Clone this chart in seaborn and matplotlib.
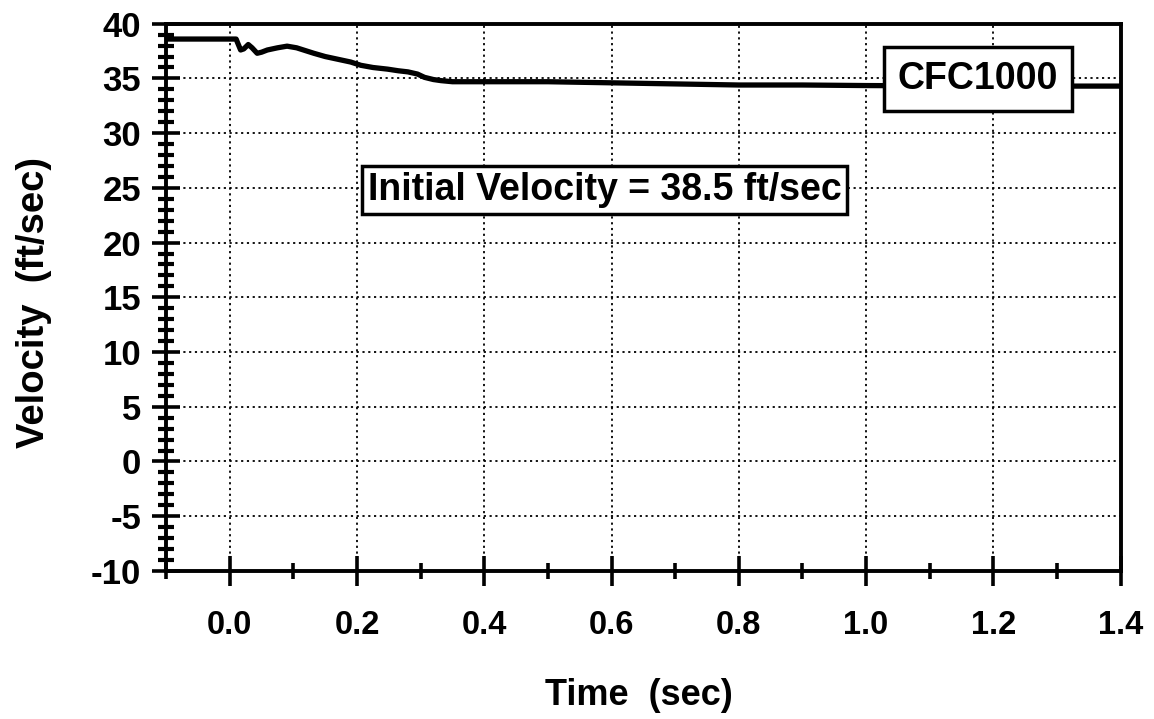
import numpy as np
import pandas as pd
import seaborn as sns
import matplotlib.pyplot as plt
from matplotlib.ticker import MultipleLocator

# Dane
time_s = [-0.1, 0.0, 0.010, 0.012, 0.017, 0.022, 0.029, 0.035, 0.043, 0.050,
          0.059, 0.075, 0.090, 0.105, 0.132, 0.150, 0.174, 0.190, 0.206, 0.225,
          0.248, 0.265, 0.280, 0.295, 0.306, 0.320, 0.332, 0.350, 0.400, 0.500,
          0.600, 0.700, 0.800, 0.900, 1.000, 1.200, 1.400]
velocity = [38.6, 38.6, 38.6, 38.3, 37.6, 37.7, 38.1, 37.8, 37.3, 37.4,
            37.6, 37.8, 37.95, 37.8, 37.3, 37.0, 36.7, 36.5, 36.2, 36.0,
            35.85, 35.7, 35.6, 35.4, 35.1, 34.9, 34.8, 34.7, 34.7, 34.7,
            34.6, 34.5, 34.4, 34.4, 34.35, 34.3, 34.3]
x_ticks = [0.0, 0.2, 0.4, 0.6, 0.8, 1.0, 1.2, 1.4]
y_ticks = [-10, -5, 0, 5, 10, 15, 20, 25, 30, 35, 40]
note_text = "Initial Velocity = 38.5 ft/sec"
filter_text = "CFC1000"

df = pd.DataFrame({"Time": time_s, "Velocity": velocity})

sns.set_style("ticks")
plt.rcParams['font.family'] = ['Liberation Sans', 'DejaVu Sans']
plt.rcParams['font.weight'] = 'bold'
# wszystko czarne, jak w oryginale
plt.rcParams['text.color'] = 'black'
plt.rcParams['axes.labelcolor'] = 'black'
plt.rcParams['xtick.color'] = 'black'
plt.rcParams['ytick.color'] = 'black'

fig = plt.figure(figsize=(11.54, 7.19), dpi=100)
ax = fig.add_axes([0.144, 0.206, 0.827, 0.761])

sns.lineplot(data=df, x="Time", y="Velocity", ax=ax, color="black", linewidth=3.8)

ax.set_xlim(-0.1, 1.4)
ax.set_ylim(-10, 40)
ax.set_xticks(x_ticks)
ax.set_xticklabels([f"{v:.1f}" for v in x_ticks])
ax.set_yticks(y_ticks)
ax.set_yticklabels([str(v) for v in y_ticks])
ax.xaxis.set_minor_locator(MultipleLocator(0.1))
ax.yaxis.set_minor_locator(MultipleLocator(1))

# siatka kropkowana tylko na głównych podziałkach
ax.grid(True, which='major', color='black', linestyle=(0, (1.2, 2.0)), linewidth=1.3)
ax.set_axisbelow(True)

for s in ax.spines.values():
    s.set_linewidth(2.8)
    s.set_color('black')

ax.tick_params(axis='x', which='major', direction='inout', length=21, width=2.6,
               labelsize=23.5, pad=18, colors='black')
ax.tick_params(axis='x', which='minor', direction='inout', length=12, width=2.6)
ax.tick_params(axis='y', which='major', direction='inout', length=20, width=2.6,
               labelsize=25, pad=8, colors='black')
ax.tick_params(axis='y', which='minor', direction='inout', length=12, width=3)

ax.set_xlabel("Time  (sec)", fontsize=26, fontweight='bold', color='black')
ax.set_ylabel("Velocity  (ft/sec)", fontsize=27.5, fontweight='bold', color='black')
ax.xaxis.set_label_coords(0.495, -0.196)
ax.yaxis.set_label_coords(-0.12, 0.49)

ax.text(0.589, 24.8, note_text, ha='center', va='center', fontsize=27, fontweight='bold',
        color='black',
        bbox=dict(boxstyle='square,pad=0.15', fc='white', ec='black', lw=2.5), zorder=5)
ax.text(1.176, 34.96, filter_text, ha='center', va='center', fontsize=27, fontweight='bold',
        color='black',
        bbox=dict(boxstyle='square,pad=0.38', fc='white', ec='black', lw=2.5), zorder=5)

fig.savefig("out.png", dpi=100)
